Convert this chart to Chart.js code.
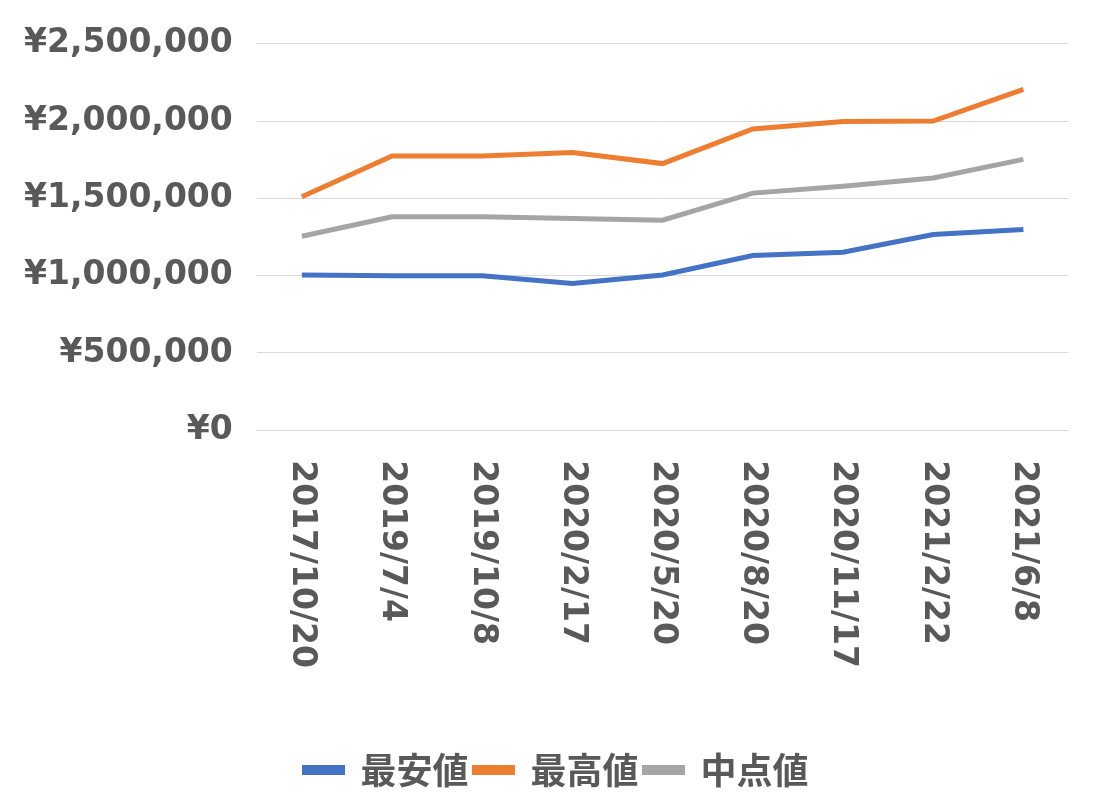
<!DOCTYPE html>
<html><head><meta charset="utf-8">
<script src="https://cdn.jsdelivr.net/npm/chart.js@4"></script>
<style>html,body{margin:0;padding:0;background:#fff}#wrap{width:1113px;height:798px}</style>
</head><body><div id="wrap"><canvas id="c"></canvas></div>
<script>
const categories=["2017/10/20","2019/7/4","2019/10/8","2020/2/17","2020/5/20","2020/8/20","2020/11/17","2021/2/22","2021/6/8"];
const lowest=[1004000,999000,999000,950000,1004000,1130000,1152000,1266000,1299000];
const highest=[1510000,1774000,1774000,1796000,1725000,1949000,1998000,2000000,2205000];
const middle=[1255000,1381000,1381000,1370000,1359000,1534000,1578000,1632000,1752000];
const seriesNames=["最安値","最高値","中点値"];
const FONT="'DejaVu Sans','Noto Sans CJK JP',sans-serif";
const LFONT="'Noto Sans CJK JP','DejaVu Sans',sans-serif";
const rotLabels={id:'rotLabels',afterDraw(ch){const s=ch.scales.x,c=ch.ctx;c.save();c.font="bold 33px "+FONT;c.fillStyle="#595959";c.textAlign="left";c.textBaseline="middle";
categories.forEach((t,i)=>{const x=s.getPixelForTick(i);c.save();c.translate(x,s.top+30);c.rotate(Math.PI/2);c.fillText(t,0,0);c.restore();});c.restore();}};
new Chart(document.getElementById('c'),{type:'line',
data:{labels:categories,datasets:[
{label:seriesNames[0],data:lowest,borderColor:'#4472C4',backgroundColor:'#4472C4'},
{label:seriesNames[1],data:highest,borderColor:'#ED7D31',backgroundColor:'#ED7D31'},
{label:seriesNames[2],data:middle,borderColor:'#A5A5A5',backgroundColor:'#A5A5A5'}]},
options:{responsive:true,maintainAspectRatio:false,animation:false,
elements:{line:{borderWidth:5,tension:0},point:{radius:0}},
layout:{padding:{left:0,right:0,top:4,bottom:0}},
plugins:{legend:{position:'bottom',labels:{font:{family:LFONT,size:36,weight:'bold'},color:'#595959',boxWidth:38,boxHeight:5,padding:6}},tooltip:{enabled:false}},
scales:{x:{offset:true,grid:{display:false},border:{color:'#d9d9d9'},ticks:{color:'rgba(0,0,0,0)',font:{family:FONT,size:33,weight:'bold'},minRotation:90,maxRotation:90,padding:50}},
y:{min:0,max:2500000,ticks:{stepSize:500000,color:'#595959',padding:24,font:{family:FONT,size:33,weight:'bold'},callback:v=>'¥'+v.toLocaleString('en-US')},grid:{color:'#d9d9d9',drawTicks:false},border:{display:false}}}},
plugins:[rotLabels]});
</script></body></html>
